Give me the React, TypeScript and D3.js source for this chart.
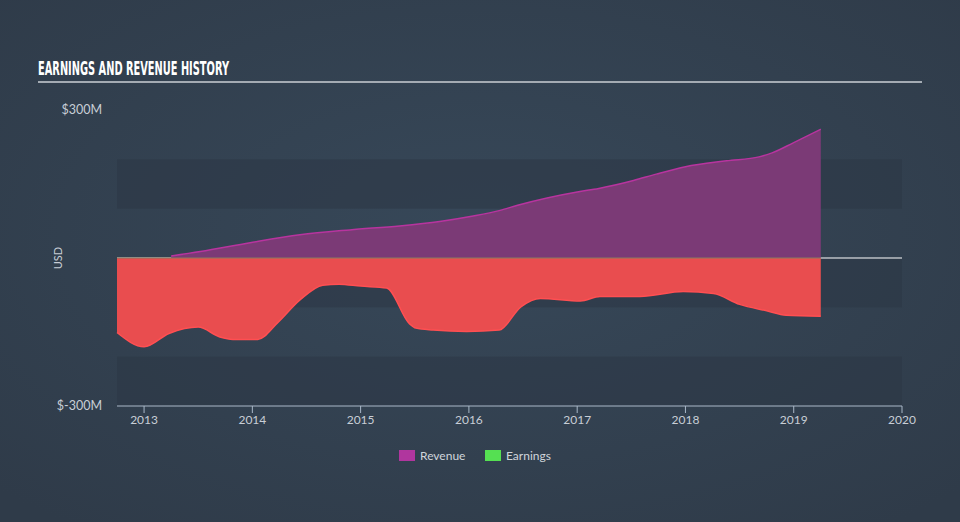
import React from "react";
import * as d3 from "d3";

const revenueDates = [2013.25, 2013.52, 2013.98, 2014.44, 2014.9, 2015.36, 2015.73, 2016.04, 2016.28, 2016.45, 2017.0, 2017.2, 2017.52, 2017.73, 2018.0, 2018.38, 2018.68, 2018.8, 2019.0, 2019.25];
const revenueValues = [4, 13, 31, 47, 57, 65, 74, 85, 96, 107, 134, 141, 157, 170, 185, 197, 205, 213, 234, 261];

const earningsDates = [2012.75, 2013.0, 2013.23, 2013.5, 2013.7, 2013.82, 2014.05, 2014.23, 2014.44, 2014.65, 2014.8, 2015.0, 2015.24, 2015.45, 2015.51, 2015.67, 2015.98, 2016.28, 2016.48, 2016.66, 2017.03, 2017.21, 2017.58, 2017.98, 2018.26, 2018.5, 2018.75, 2018.93, 2019.25];
const earningsValues = [-151, -180, -153, -140, -160, -165, -165, -132, -85, -55, -53, -57, -61, -133, -142, -146, -149, -146, -99, -82, -87, -78, -78, -68, -72, -94, -107, -116, -118];

const xTicks = [2013, 2014, 2015, 2016, 2017, 2018, 2019, 2020];
const yTickLabels = [
  { v: 300, label: "$300M" },
  { v: -300, label: "$-300M" },
];
const bandEdges = [200, 100, 0, -100, -200, -300];

const W = 960;
const H = 522;
const FONT = "Lato, 'Open Sans', sans-serif";

export default function App() {
  const x = d3.scaleLinear().domain([2012.75, 2020]).range([117, 902]);
  const y = d3.scaleLinear().domain([-300, 300]).range([406, 110]);

  const rev = revenueDates.map((d, i) => [d, revenueValues[i]] as [number, number]);
  const earn = earningsDates.map((d, i) => [d, earningsValues[i]] as [number, number]);

  const curve = d3.curveMonotoneX;
  const area = d3
    .area<[number, number]>()
    .x((d) => x(d[0]))
    .y0(y(0))
    .y1((d) => y(d[1]))
    .curve(curve);
  const line = d3
    .line<[number, number]>()
    .x((d) => x(d[0]))
    .y((d) => y(d[1]))
    .curve(curve);

  const bands: { y0: number; y1: number; dark: boolean }[] = [];
  for (let i = 0; i < bandEdges.length - 1; i++) {
    bands.push({ y0: bandEdges[i], y1: bandEdges[i + 1], dark: i % 2 === 1 });
  }
  // top band 300..200 is background; dark bands: 200..100, 0..-100, -200..-300
  const darkBands = [
    [200, 100],
    [0, -100],
    [-200, -300],
  ];

  const lastX = x(revenueDates[revenueDates.length - 1]);

  return (
    <svg
      width={W}
      height={H}
      style={{ position: "absolute", left: 0, top: 0 }}
      fontFamily={FONT}
    >
      <defs>
        <radialGradient id="bg" cx="50%" cy="45%" r="70%">
          <stop offset="0%" stopColor="#374859" />
          <stop offset="100%" stopColor="#2f3b49" />
        </radialGradient>
      </defs>
      <rect x={0} y={0} width={W} height={H} fill="url(#bg)" />

      {darkBands.map(([a, b], i) => (
        <rect
          key={i}
          x={x(2012.75)}
          y={y(a)}
          width={x(2020) - x(2012.75)}
          height={y(b) - y(a)}
          fill="#2b3745"
          opacity={0.55}
        />
      ))}

      {/* zero line */}
      <line x1={x(2012.75)} x2={x(2020)} y1={y(0)} y2={y(0)} stroke="#ffffff" strokeWidth={1.2} />

      <path d={area(rev) || ""} fill="#7b3a76" />
      <path d={line(rev) || ""} fill="none" stroke="#b8349f" strokeWidth={1.5} />

      <path d={area(earn) || ""} fill="#e94d4f" />
      <path d={line(earn) || ""} fill="none" stroke="#ff4f52" strokeWidth={1.5} />

      <line x1={x(2012.75)} x2={lastX} y1={y(0)} y2={y(0)} stroke="#8a7a5e" strokeWidth={1.2} />

      {/* x axis */}
      <line x1={x(2012.75)} x2={x(2020)} y1={406} y2={406} stroke="#a9b8c8" strokeWidth={1.2} />
      {xTicks.map((t) => (
        <g key={t}>
          <line x1={x(t)} x2={x(t)} y1={406} y2={413} stroke="#a9b8c8" strokeWidth={1} />
          <text x={x(t)} y={424} textAnchor="middle" fontSize={12} fill="#c8ced6">
            {t}
          </text>
        </g>
      ))}

      {yTickLabels.map((t) => (
        <text key={t.label} x={102} y={y(t.v) + 4} textAnchor="end" fontSize={12.5} fill="#c8ced6">
          {t.label}
        </text>
      ))}
      <text
        x={0}
        y={0}
        transform={`translate(62,${y(0)}) rotate(-90)`}
        textAnchor="middle"
        fontSize={11}
        fill="#c8ced6"
      >
        USD
      </text>

      {/* title */}
      <text
        x={38}
        y={74.5}
        fontFamily="'Liberation Sans Narrow', 'DejaVu Sans Condensed', sans-serif"
        fontWeight="bold"
        fontSize={19}
        fill="#ffffff"
        textLength={191}
        lengthAdjust="spacingAndGlyphs"
      >
        EARNINGS AND REVENUE HISTORY
      </text>
      <line x1={38} x2={922} y1={82} y2={82} stroke="#a4abb3" strokeWidth={2} />

      {/* legend */}
      <rect x={399} y={450} width={16} height={11} fill="#b0369e" />
      <text x={420} y={460} fontSize={12} fill="#d0d5db">
        Revenue
      </text>
      <rect x={485} y={450} width={16} height={11} fill="#55e052" />
      <text x={506} y={460} fontSize={12} fill="#d0d5db">
        Earnings
      </text>
    </svg>
  );
}
